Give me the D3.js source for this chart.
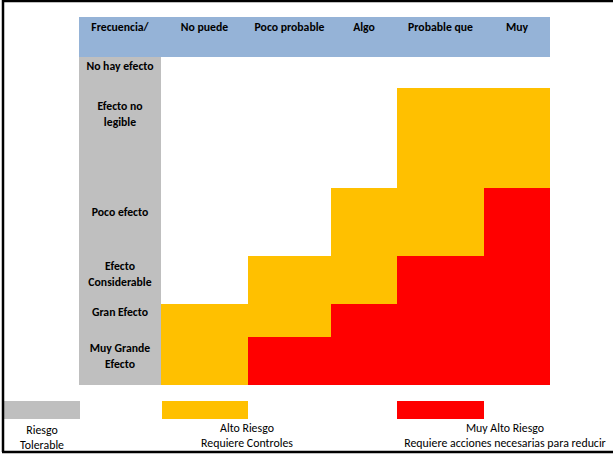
<!DOCTYPE html>
<html>
<head>
<meta charset="utf-8">
<script src="https://cdn.jsdelivr.net/npm/d3@7"></script>
<style>
  html, body { margin: 0; padding: 0; background: #fff; }
  svg { display: block; }
  text { font-family: Carlito, Lato, "Liberation Sans", sans-serif; fill: #000; }
</style>
</head>
<body>
<svg id="chart" width="613" height="459"></svg>
<script>
// Frequency headings (first one is the corner cell above the effect labels)
const frequencies = ["Frecuencia/", "No puede", "Poco probable", "Algo", "Probable que", "Muy"];
// Effect severity labels, one entry per row (split into lines)
const effects = [
  ["No hay efecto"],
  ["Efecto no", "legible"],
  ["Poco efecto"],
  ["Efecto", "Considerable"],
  ["Gran Efecto"],
  ["Muy Grande", "Efecto"]
];
// Risk level per effect row (top to bottom) and frequency column (left to right)
// 0 = sin riesgo marcado, 1 = Alto Riesgo, 2 = Muy Alto Riesgo
const riskGrid = [
  [0, 0, 0, 0, 0],
  [0, 0, 0, 1, 1],
  [0, 0, 1, 1, 2],
  [0, 1, 1, 2, 2],
  [1, 1, 2, 2, 2],
  [1, 2, 2, 2, 2]
];
// Legend entries
const legendLevels = ["Tolerable", "Alto", "Muy Alto"];
const legendLines = [
  ["Riesgo", "Tolerable"],
  ["Alto Riesgo", "Requiere Controles"],
  ["Muy Alto Riesgo", "Requiere acciones necesarias para reducir"]
];

const svg = d3.select("#chart");

// Column and row boundaries (cells have uneven sizes)
const colEdges = [79, 161, 248, 331, 397, 484, 550];
const rowEdges = [57, 88, 188, 256, 304, 337, 385];
const x = d3.scaleLinear().domain(d3.range(colEdges.length)).range(colEdges);
const y = d3.scaleLinear().domain(d3.range(rowEdges.length)).range(rowEdges);

const riskColor = d3.scaleOrdinal().domain([0, 1, 2]).range(["#FFFFFF", "#FFC000", "#FF0000"]);
const legendColor = d3.scaleOrdinal().domain(legendLevels).range(["#BFBFBF", "#FFC000", "#FF0000"]);

// Pick font sizes so the substitute font spans the same widths as the original type
function fitSize(sample, weight, target) {
  const t = svg.append("text").attr("font-size", 100).attr("font-weight", weight).text(sample);
  const w = t.node().getComputedTextLength();
  t.remove();
  return 100 * target / w;
}
const boldSize = fitSize("Poco probable", "bold", 70);
const regSize = fitSize("Requiere Controles", "normal", 92);

// Header band
svg.append("rect")
  .attr("x", x(0)).attr("y", 17)
  .attr("width", x(6) - x(0)).attr("height", y(0) - 17)
  .attr("fill", "#95B3D7");

svg.append("g").selectAll("text")
  .data(frequencies)
  .join("text")
  .attr("x", (d, i) => (x(i) + x(i + 1)) / 2)
  .attr("y", 31)
  .attr("text-anchor", "middle")
  .attr("font-weight", "bold")
  .attr("font-size", boldSize)
  .text(d => d);

// Effect label column
svg.append("rect")
  .attr("x", x(0)).attr("y", y(0))
  .attr("width", x(1) - x(0)).attr("height", y(6) - y(0))
  .attr("fill", "#BFBFBF");

// Baseline of the first label line, measured from each row's top
const labelOffset = [13, 22, 28, 14, 12, 15];
const lineGap = 16;
const labels = svg.append("g").selectAll("text")
  .data(effects)
  .join("text")
  .attr("text-anchor", "middle")
  .attr("font-weight", "bold")
  .attr("font-size", boldSize);
labels.selectAll("tspan")
  .data((d, i) => d.map((line, j) => ({ line, j, i })))
  .join("tspan")
  .attr("x", (x(0) + x(1)) / 2)
  .attr("y", d => y(d.i) + labelOffset[d.i] + d.j * lineGap)
  .text(d => d.line);

// Risk cells
const cells = riskGrid.flatMap((row, r) => row.map((level, c) => ({ r, c: c + 1, level })));
svg.append("g").selectAll("rect")
  .data(cells.filter(d => d.level > 0))
  .join("rect")
  .attr("x", d => x(d.c))
  .attr("y", d => y(d.r))
  .attr("width", d => x(d.c + 1) - x(d.c))
  .attr("height", d => y(d.r + 1) - y(d.r))
  .attr("fill", d => riskColor(d.level))
  .attr("shape-rendering", "crispEdges");

// Legend swatches and captions
const swatchX = [4, 162, 397];
const swatchW = [76, 86, 87];
const captionX = [42, 247, 505];
svg.append("g").selectAll("rect")
  .data(legendLevels)
  .join("rect")
  .attr("x", (d, i) => swatchX[i])
  .attr("y", 401)
  .attr("width", (d, i) => swatchW[i])
  .attr("height", 18)
  .attr("fill", d => legendColor(d));

const captions = svg.append("g").selectAll("text")
  .data(legendLines)
  .join("text")
  .attr("text-anchor", "middle")
  .attr("font-size", regSize);
captions.selectAll("tspan")
  .data((d, i) => d.map((line, j) => ({ line, j, i })))
  .join("tspan")
  .attr("x", d => captionX[d.i])
  .attr("y", d => (d.i === 0 ? 434 : 432) + d.j * (d.i === 0 ? 15 : 15))
  .text(d => d.line);

// Frame
svg.append("path")
  .attr("d", "M3,0V452M2,1H613M2,452H613")
  .attr("fill", "none")
  .attr("stroke", "#000")
  .attr("stroke-width", 2.5);
</script>
</body>
</html>
